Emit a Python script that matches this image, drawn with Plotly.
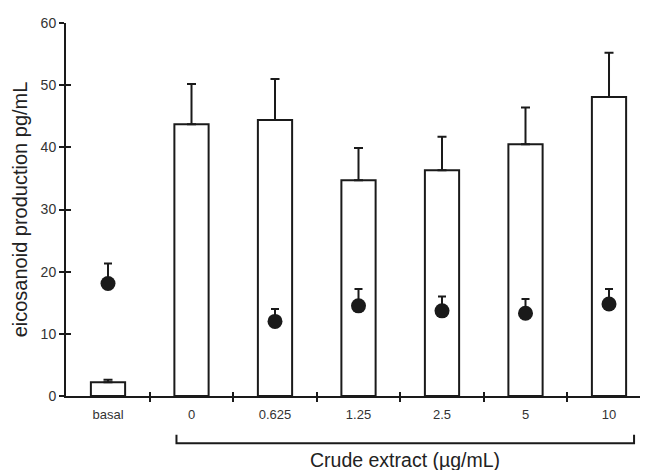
import plotly.graph_objects as go

categories = ["basal", "0", "0.625", "1.25", "2.5", "5", "10"]
bar_values = [2.2, 43.7, 44.4, 34.7, 36.3, 40.5, 48.1]
bar_err_top = [2.6, 50.2, 51.0, 39.9, 41.7, 46.4, 55.2]
dot_categories = ["basal", "0.625", "1.25", "2.5", "5", "10"]
dot_values = [18.1, 12.0, 14.5, 13.7, 13.3, 14.8]
dot_err_top = [21.3, 14.0, 17.2, 16.0, 15.6, 17.2]
y_ticks = [0, 10, 20, 30, 40, 50, 60]

xpos = list(range(len(categories)))
dot_x = [categories.index(c) for c in dot_categories]
bounds = [i + 0.5 for i in range(len(categories) - 1)]

FONT = "Liberation Sans, Arial, sans-serif"

fig = go.Figure()
fig.add_trace(go.Bar(
    x=xpos, y=bar_values, width=0.41,
    marker=dict(color="white", line=dict(color="#1a1a1a", width=2)),
    error_y=dict(type="data", symmetric=False,
                 array=[t - v for t, v in zip(bar_err_top, bar_values)],
                 arrayminus=[0] * len(bar_values),
                 color="#1a1a1a", thickness=2, width=4.5),
    showlegend=False, hoverinfo="skip"))
fig.add_trace(go.Scatter(
    x=dot_x, y=dot_values, mode="markers",
    marker=dict(color="#1a1a1a", size=15),
    error_y=dict(type="data", symmetric=False,
                 array=[t - v for t, v in zip(dot_err_top, dot_values)],
                 arrayminus=[0] * len(dot_values),
                 color="#1a1a1a", thickness=2, width=4),
    showlegend=False, hoverinfo="skip"))
fig.add_trace(go.Scatter(x=[None], y=[None], xaxis="x2", yaxis="y2",
                         showlegend=False, hoverinfo="skip"))

xr = [-0.503, 6.467]
fig.update_layout(
    width=640, height=462,
    margin=dict(l=58, r=0, t=15, b=74),
    paper_bgcolor="white", plot_bgcolor="white",
    font=dict(family=FONT, color="#222"),
    xaxis=dict(range=xr, tickvals=xpos, ticktext=categories, ticks="",
               tickfont=dict(size=13, color="#333"), ticklabelstandoff=5,
               showline=True, linecolor="#1a1a1a", linewidth=2,
               showgrid=False, zeroline=False, fixedrange=True,
               minor=dict(tickvals=bounds, ticks="outside", ticklen=4,
                          tickwidth=2, tickcolor="#1a1a1a", showgrid=False)),
    xaxis2=dict(range=xr, overlaying="x", anchor="y", side="bottom",
                tickvals=bounds, ticks="inside", ticklen=4, tickwidth=2,
                tickcolor="#1a1a1a", showticklabels=False, showline=False,
                showgrid=False, zeroline=False),
    yaxis=dict(range=[0, 60], tickvals=y_ticks, ticks="outside", ticklen=5,
               tickwidth=2, tickcolor="#1a1a1a",
               tickfont=dict(size=14, color="#333"),
               showline=True, linecolor="#1a1a1a", linewidth=2,
               showgrid=False, zeroline=False,
               title=dict(text="eicosanoid production pg/mL",
                          font=dict(size=20, color="#222"), standoff=8)),
    yaxis2=dict(range=[0, 60], overlaying="y", anchor="x", side="left",
                tickvals=y_ticks, ticks="inside", ticklen=5, tickwidth=2,
                tickcolor="#1a1a1a", showticklabels=False, showline=False,
                showgrid=False, zeroline=False),
)

# bracket grouping the crude-extract concentrations
bx0, bx1 = 0.82, 6.3
yb, yt = -0.127, -0.104
fig.add_shape(type="path", xref="x", yref="paper",
              path=f"M {bx0},{yt} L {bx0},{yb} L {bx1},{yb} L {bx1},{yt}",
              line=dict(color="#1a1a1a", width=2))
fig.add_annotation(x=(bx0 + bx1) / 2, y=-0.171, xref="x", yref="paper",
                   text="Crude extract (µg/mL)", showarrow=False,
                   yanchor="middle", font=dict(size=19.5, color="#222"))

fig.write_html("out.html")
